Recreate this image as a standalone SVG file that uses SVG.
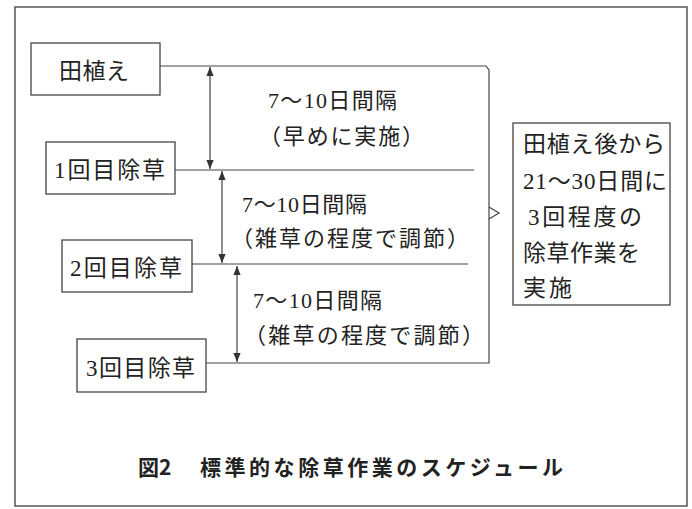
<svg xmlns="http://www.w3.org/2000/svg" width="692" height="509" viewBox="0 0 692 509">
<style>
  .frame { fill: none; stroke: #555; stroke-width: 1.5; }
  .box { fill: #fff; stroke: #444; stroke-width: 1.3; }
  .ln { fill: none; stroke: #444; stroke-width: 1.2; }
  .t { font-family: "Liberation Serif", "Noto Sans CJK JP", serif; fill: #222; }
  .node { font-size: 23px; }
  .mid { font-size: 22px; }
  .side { font-size: 23px; }
  .cap { font-family: "Noto Sans CJK JP", "Noto Sans", sans-serif; font-weight: bold; font-size: 21px; fill: #222; }
</style>
<defs>
  <marker id="ah" viewBox="0 0 10 10" refX="10" refY="5" markerWidth="9" markerHeight="9" orient="auto-start-reverse" markerUnits="userSpaceOnUse">
    <path d="M0,1 L10,5 L0,9 Z" fill="#333"/>
  </marker>
</defs>
<rect x="0" y="0" width="692" height="509" fill="#fff"/>
<rect class="frame" x="15" y="7" width="672" height="499"/>

<g id="connectors">
  <polyline class="ln" points="160,66 486,66 489,70 489,363 206,363"/>
  <line class="ln" x1="175" y1="170" x2="474" y2="170"/>
  <line class="ln" x1="192" y1="264" x2="468" y2="264"/>
  <polyline class="ln" points="489,207 499,213 489,219"/>
  <line class="ln" x1="210" y1="67" x2="210" y2="169" marker-start="url(#ah)" marker-end="url(#ah)"/>
  <line class="ln" x1="222" y1="171" x2="222" y2="263" marker-start="url(#ah)" marker-end="url(#ah)"/>
  <line class="ln" x1="237" y1="266" x2="237" y2="362" marker-start="url(#ah)" marker-end="url(#ah)"/>
</g>

<g id="node-taue">
  <rect class="box" x="31" y="43" width="129" height="52"/>
  <text class="t node" x="59" y="79" textLength="70">田植え</text>
</g>
<g id="node-weed1">
  <rect class="box" x="46" y="142" width="129" height="52"/>
  <text class="t node" x="54" y="178" textLength="111">1回目除草</text>
</g>
<g id="node-weed2">
  <rect class="box" x="62" y="240" width="130" height="52"/>
  <text class="t node" x="70" y="276" textLength="112">2回目除草</text>
</g>
<g id="node-weed3">
  <rect class="box" x="77" y="339" width="129" height="53"/>
  <text class="t node" x="86" y="376" textLength="109">3回目除草</text>
</g>

<g id="interval-1">
  <text class="t mid" x="268" y="108" textLength="129">7～10日間隔</text>
  <text class="t mid" x="259" y="144" textLength="165">（早めに実施）</text>
</g>
<g id="interval-2">
  <text class="t mid" x="242" y="212" textLength="125">7～10日間隔</text>
  <text class="t mid" x="231" y="246" textLength="238">（雑草の程度で調節）</text>
</g>
<g id="interval-3">
  <text class="t mid" x="253" y="308" textLength="129">7～10日間隔</text>
  <text class="t mid" x="244" y="343" textLength="240">（雑草の程度で調節）</text>
</g>

<g id="node-summary">
  <rect class="box" x="513" y="123" width="157" height="182"/>
  <text class="t side" x="523" y="152" textLength="142">田植え後から</text>
  <text class="t side" x="523" y="189" textLength="144">21～30日間に</text>
  <text class="t side" x="528" y="225" textLength="114">3回程度の</text>
  <text class="t side" x="523" y="261" textLength="117">除草作業を</text>
  <text class="t side" x="523" y="296" textLength="49">実施</text>
</g>

<g id="caption">
  <text class="cap" x="138" y="475">図2</text>
  <text class="cap" x="200" y="475" textLength="363">標準的な除草作業のスケジュール</text>
</g>
</svg>
